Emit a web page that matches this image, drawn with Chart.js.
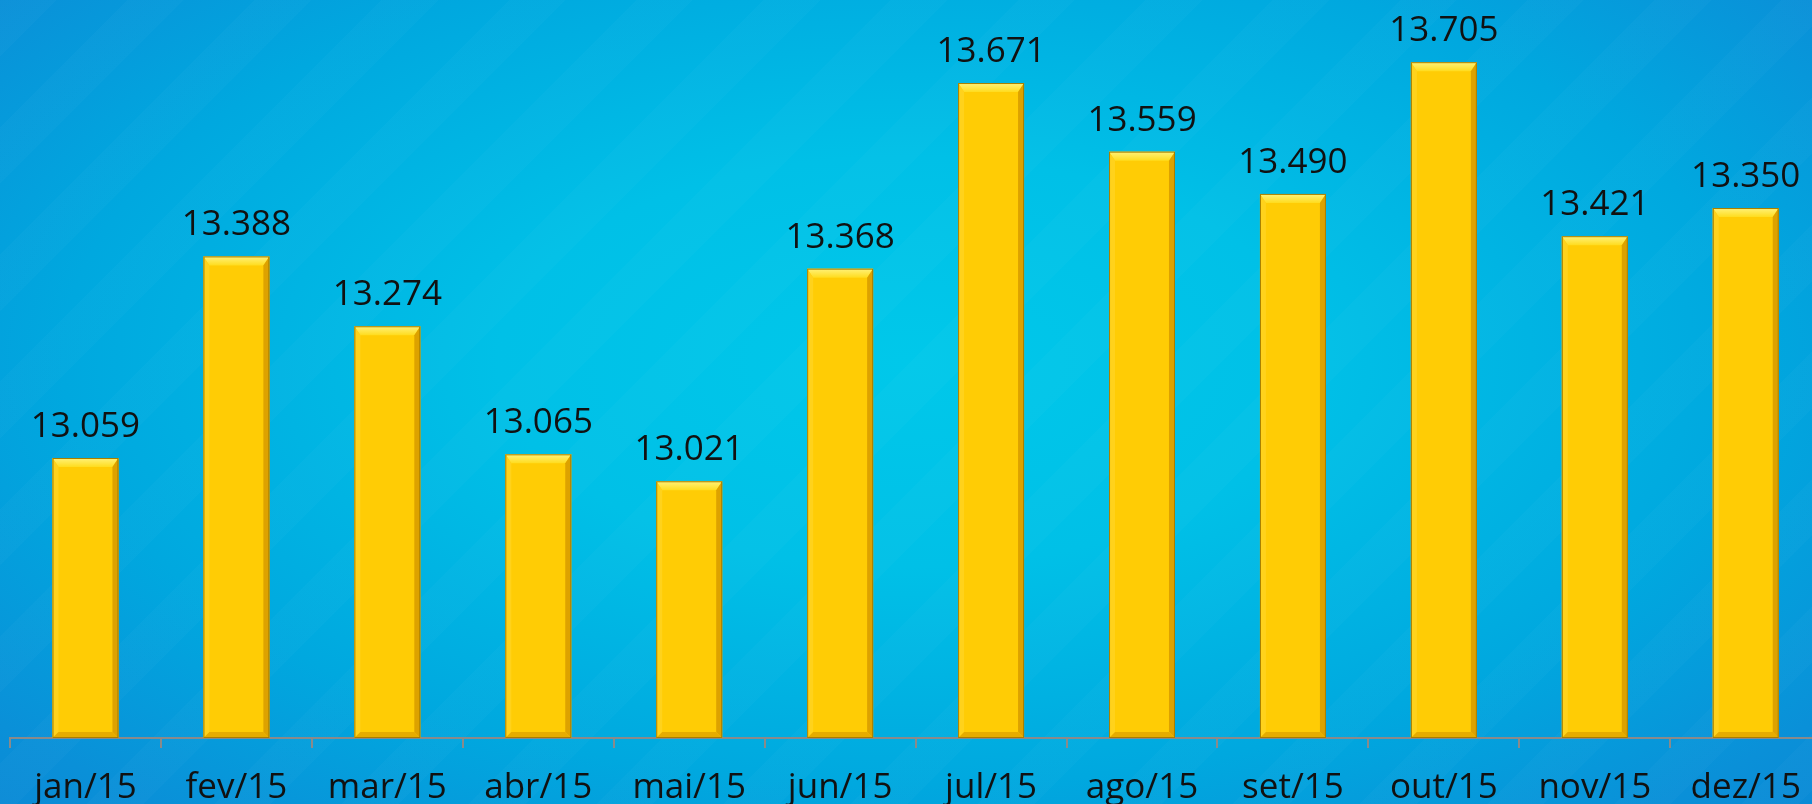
<!DOCTYPE html>
<html>
<head>
<meta charset="utf-8">
<script src="https://cdn.jsdelivr.net/npm/chart.js@4.4.1/dist/chart.umd.min.js"></script>
<style>
  html, body { margin: 0; padding: 0; width: 1812px; height: 804px; overflow: hidden; }
  body {
    background:
      repeating-linear-gradient(135deg, rgba(255,255,255,0.02) 0px, rgba(255,255,255,0.02) 40px, rgba(0,0,0,0) 40px, rgba(0,0,0,0) 90px),
      radial-gradient(ellipse 75% 85% at 50% 45%, #00c8ea 0%, #00c0e7 30%, #00a8df 62%, #0a90d8 85%, #0a86d4 100%);
  }
  #wrap { width: 1812px; height: 804px; overflow: hidden; }
</style>
</head>
<body>
<div id="wrap"><canvas id="kwhChart" width="1824" height="833"></canvas></div>
<script>
// Meses e valores
const months = ['jan/15', 'fev/15', 'mar/15', 'abr/15', 'mai/15', 'jun/15',
                'jul/15', 'ago/15', 'set/15', 'out/15', 'nov/15', 'dez/15'];
const barValues = [13.059, 13.388, 13.274, 13.065, 13.021, 13.368,
                   13.671, 13.559, 13.490, 13.705, 13.421, 13.467];
const valueLabels = ['13.059', '13.388', '13.274', '13.065', '13.021', '13.368',
                     '13.671', '13.559', '13.490', '13.705', '13.421', '13.350'];

const yMin = 12.602;
const yMax = 13.8065;
const fontFamily = '"Open Sans", "Noto Sans", sans-serif';

// Barras com chanfro + rótulos de valor
const bevelPlugin = {
  id: 'bevel',
  afterDatasetsDraw(chart) {
    const ctx = chart.ctx;
    const poly = (pts, color) => {
      ctx.beginPath();
      ctx.moveTo(pts[0][0], pts[0][1]);
      for (let k = 1; k < pts.length; k++) ctx.lineTo(pts[k][0], pts[k][1]);
      ctx.closePath();
      ctx.fillStyle = color;
      ctx.fill();
    };
    ctx.save();
    chart.getDatasetMeta(0).data.forEach((bar, i) => {
      const p = bar.getProps(['x', 'y', 'base', 'width'], true);
      const l = p.x - p.width / 2, r = p.x + p.width / 2, t = p.y;
      const b = Math.min(p.base, chart.chartArea.bottom);
      const d = 6, dt = 9;
      const topGrad = ctx.createLinearGradient(0, t, 0, t + dt);
      topGrad.addColorStop(0, '#FFF27A');
      topGrad.addColorStop(1, '#FFDC1E');
      poly([[l, t], [r, t], [r - d, t + dt], [l + d, t + dt]], topGrad);
      poly([[l, t], [l + d, t + dt], [l + d, b - d], [l, b]], '#FFD21C');
      poly([[r, t], [r, b], [r - d, b - d], [r - d, t + dt]], '#DDA200');
      poly([[l, b], [l + d, b - d], [r - d, b - d], [r, b]], '#E6AC00');
      ctx.strokeStyle = '#A87E00';
      ctx.lineWidth = 1;
      ctx.strokeRect(l + 0.5, t + 0.5, p.width - 1, b - t - 1);

      ctx.fillStyle = '#111';
      ctx.font = '35px ' + fontFamily;
      ctx.textAlign = 'center';
      ctx.textBaseline = 'alphabetic';
      ctx.fillText(valueLabels[i], p.x, t - 21);
    });
    ctx.restore();
  }
};

const ctx = document.getElementById('kwhChart').getContext('2d');
const kwhChart = new Chart(ctx, {
  type: 'bar',
  data: {
    labels: months,
    datasets: [{
      data: barValues,
      base: yMin,
      backgroundColor: '#FFCC05',
      borderWidth: 0,
      categoryPercentage: 1,
      barPercentage: 0.437
    }]
  },
  options: {
    responsive: false,
    animation: false,
    layout: { padding: { left: 10, right: 2, top: 0, bottom: 4 } },
    plugins: {
      legend: { display: false },
      tooltip: { enabled: false }
    },
    scales: {
      x: {
        grid: {
          offset: true,
          drawOnChartArea: false,
          drawTicks: true,
          tickLength: 10,
          color: '#8a8a8a',
          lineWidth: 2
        },
        border: { display: true, color: '#8a8a8a', width: 2 },
        ticks: {
          color: '#111',
          padding: 23,
          font: { family: fontFamily, size: 35, lineHeight: 1.0 }
        }
      },
      y: {
        display: false,
        min: yMin,
        max: yMax
      }
    }
  },
  plugins: [bevelPlugin]
});
</script>
</body>
</html>
